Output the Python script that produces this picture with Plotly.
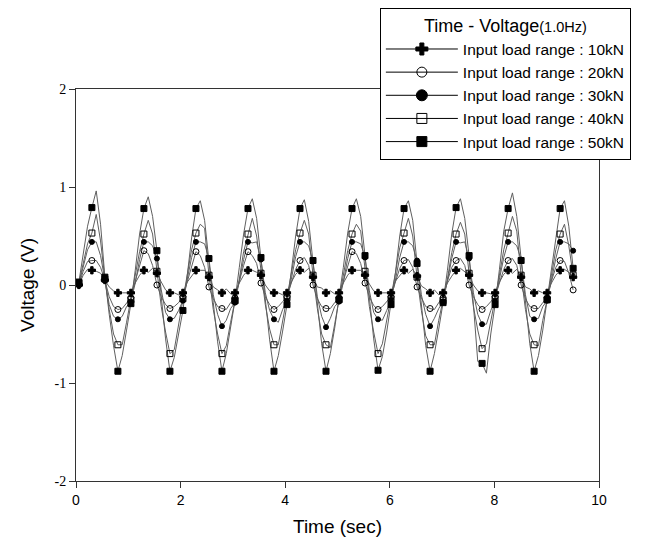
import numpy as np
import plotly.graph_objects as go

# ---- data ----
sample_start = 0.055   # s, first sample
sample_step = 0.0829   # s, line sampling interval (markers every 3rd sample)

v10 = [0.00, 0.10, 0.16, 0.15, 0.14, 0.12, 0.05, -0.02, -0.06, -0.08, -0.08, -0.08,
       -0.08, 0.02, 0.10, 0.15, 0.13, 0.17, 0.12, 0.03, -0.05, -0.08, -0.08, -0.10,
       -0.08, 0.03, 0.09, 0.15, 0.15, 0.15, 0.08, -0.02, -0.05, -0.08, -0.04, -0.09,
       -0.08, 0.02, 0.10, 0.15, 0.15, 0.13, 0.10, 0.00, -0.06, -0.08, -0.08, -0.10,
       -0.08, 0.03, 0.11, 0.15, 0.13, 0.17, 0.08, -0.02, -0.03, -0.08, -0.06, -0.09,
       -0.08, 0.02, 0.10, 0.15, 0.15, 0.15, 0.10, 0.01, -0.06, -0.08, -0.08, -0.08,
       -0.08, 0.04, 0.10, 0.15, 0.12, 0.16, 0.09, -0.01, -0.04, -0.08, -0.05, -0.10,
       -0.08, 0.02, 0.09, 0.15, 0.17, 0.13, 0.10, 0.00, -0.06, -0.08, -0.08, -0.09,
       -0.08, 0.03, 0.11, 0.15, 0.12, 0.16, 0.08, -0.02, -0.04, -0.08, -0.06, -0.08,
       -0.08, 0.02, 0.10, 0.15, 0.16, 0.13, 0.08]

v20 = [0.00, 0.14, 0.24, 0.25, 0.25, 0.18, 0.05, -0.12, -0.22, -0.25, -0.24, -0.18,
       -0.13, 0.04, 0.20, 0.35, 0.32, 0.20, 0.00, -0.12, -0.20, -0.24, -0.22, -0.18,
       -0.12, 0.04, 0.20, 0.34, 0.30, 0.18, -0.02, -0.14, -0.22, -0.24, -0.25, -0.18,
       -0.13, 0.04, 0.20, 0.34, 0.30, 0.22, 0.02, -0.12, -0.20, -0.25, -0.22, -0.17,
       -0.12, 0.02, 0.16, 0.25, 0.28, 0.20, 0.00, -0.14, -0.22, -0.24, -0.24, -0.18,
       -0.13, 0.04, 0.20, 0.34, 0.32, 0.22, 0.02, -0.12, -0.21, -0.25, -0.22, -0.17,
       -0.12, 0.03, 0.17, 0.25, 0.26, 0.18, -0.02, -0.13, -0.22, -0.24, -0.25, -0.18,
       -0.13, 0.04, 0.18, 0.25, 0.27, 0.20, 0.00, -0.12, -0.20, -0.25, -0.22, -0.17,
       -0.12, 0.02, 0.16, 0.25, 0.27, 0.20, 0.00, -0.14, -0.22, -0.24, -0.24, -0.18,
       -0.13, 0.04, 0.18, 0.25, 0.24, 0.12, -0.05]

v30 = [0.01, 0.20, 0.36, 0.44, 0.44, 0.30, 0.06, -0.20, -0.32, -0.35, -0.32, -0.22,
       -0.17, 0.02, 0.26, 0.44, 0.44, 0.40, 0.27, -0.05, -0.28, -0.35, -0.34, -0.26,
       -0.16, 0.05, 0.28, 0.44, 0.44, 0.42, 0.27, -0.10, -0.30, -0.42, -0.36, -0.24,
       -0.18, 0.04, 0.26, 0.44, 0.43, 0.44, 0.26, -0.08, -0.26, -0.35, -0.38, -0.25,
       -0.16, 0.06, 0.29, 0.44, 0.44, 0.40, 0.24, -0.12, -0.32, -0.43, -0.34, -0.22,
       -0.17, 0.03, 0.27, 0.44, 0.44, 0.42, 0.28, -0.06, -0.28, -0.35, -0.36, -0.26,
       -0.15, 0.05, 0.28, 0.44, 0.44, 0.40, 0.25, -0.10, -0.30, -0.42, -0.34, -0.24,
       -0.17, 0.04, 0.27, 0.44, 0.43, 0.44, 0.27, -0.08, -0.30, -0.40, -0.40, -0.26,
       -0.16, 0.06, 0.28, 0.44, 0.44, 0.40, 0.26, -0.10, -0.32, -0.35, -0.34, -0.22,
       -0.16, 0.05, 0.27, 0.44, 0.44, 0.42, 0.35]

v40 = [0.02, 0.22, 0.42, 0.53, 0.72, 0.45, 0.06, -0.25, -0.50, -0.61, -0.61, -0.38,
       -0.15, 0.08, 0.34, 0.52, 0.66, 0.52, 0.14, -0.22, -0.48, -0.70, -0.66, -0.40,
       -0.14, 0.10, 0.36, 0.53, 0.62, 0.58, 0.10, -0.25, -0.50, -0.70, -0.62, -0.38,
       -0.16, 0.06, 0.34, 0.52, 0.68, 0.50, 0.12, -0.20, -0.45, -0.61, -0.61, -0.36,
       -0.13, 0.10, 0.36, 0.53, 0.66, 0.52, 0.10, -0.24, -0.50, -0.61, -0.64, -0.40,
       -0.15, 0.08, 0.35, 0.52, 0.62, 0.55, 0.14, -0.22, -0.48, -0.70, -0.60, -0.37,
       -0.14, 0.12, 0.38, 0.53, 0.68, 0.50, 0.08, -0.26, -0.52, -0.61, -0.61, -0.36,
       -0.16, 0.06, 0.33, 0.52, 0.64, 0.52, 0.12, -0.22, -0.46, -0.65, -0.60, -0.38,
       -0.14, 0.10, 0.36, 0.53, 0.70, 0.55, 0.10, -0.25, -0.50, -0.61, -0.62, -0.36,
       -0.15, 0.10, 0.36, 0.52, 0.62, 0.40, 0.10]

v50 = [0.03, 0.32, 0.60, 0.79, 0.96, 0.62, 0.08, -0.30, -0.62, -0.88, -0.72, -0.46,
       -0.19, 0.15, 0.52, 0.78, 0.90, 0.70, 0.35, -0.12, -0.55, -0.88, -0.74, -0.50,
       -0.26, 0.10, 0.48, 0.78, 0.86, 0.66, 0.27, -0.18, -0.58, -0.88, -0.70, -0.45,
       -0.16, 0.18, 0.52, 0.78, 0.88, 0.68, 0.28, -0.15, -0.56, -0.88, -0.72, -0.47,
       -0.20, 0.14, 0.50, 0.78, 0.87, 0.65, 0.25, -0.20, -0.60, -0.88, -0.70, -0.44,
       -0.15, 0.18, 0.53, 0.78, 0.88, 0.70, 0.30, -0.14, -0.55, -0.87, -0.73, -0.48,
       -0.20, 0.12, 0.50, 0.78, 0.86, 0.66, 0.22, -0.22, -0.62, -0.88, -0.70, -0.45,
       -0.18, 0.15, 0.52, 0.79, 0.88, 0.68, 0.30, -0.20, -0.78, -0.80, -0.90, -0.50,
       -0.20, 0.16, 0.55, 0.78, 0.94, 0.70, 0.25, -0.18, -0.60, -0.88, -0.72, -0.46,
       -0.15, 0.18, 0.50, 0.78, 0.86, 0.60, 0.17]

series_names = ["Input load range : 10kN", "Input load range : 20kN",
                "Input load range : 30kN", "Input load range : 40kN",
                "Input load range : 50kN"]
series_values = [v10, v20, v30, v40, v50]

x_ticks = [0, 2, 4, 6, 8, 10]
y_ticks = [-2, -1, 0, 1, 2]
y_tick_labels = ["-2", "-1", "0", "1", "2"]

# ---- styles ----
symbols = ["cross", "circle-open", "circle", "square-open", "square"]
plot_sizes = [6, 6, 5, 6, 6]
legend_sizes = [10, 10, 11, 10, 10]
line_color = "rgb(95,95,95)"

fig = go.Figure()
t = sample_start + sample_step * np.arange(len(v10))

for name, vals in zip(series_names, series_values):
    fig.add_trace(go.Scatter(x=t, y=vals, mode="lines",
                             line=dict(color=line_color, width=1),
                             showlegend=False, hoverinfo="skip"))
for name, vals, sym, ps in zip(series_names, series_values, symbols, plot_sizes):
    fig.add_trace(go.Scatter(x=t[::3], y=vals[::3], mode="markers",
                             marker=dict(symbol=sym, size=ps, color="black",
                                         line=dict(color="black", width=1)),
                             showlegend=False))
for name, sym, ls in zip(series_names, symbols, legend_sizes):
    fig.add_trace(go.Scatter(x=[None], y=[None], mode="lines+markers", name=name,
                             line=dict(color="black", width=1),
                             marker=dict(symbol=sym, size=ls, color="black",
                                         line=dict(color="black", width=1))))

axis_common = dict(showline=True, linecolor="#333", linewidth=1, mirror=True,
                   ticks="outside", ticklen=6, tickcolor="#333",
                   showgrid=False, zeroline=False, automargin=False)

fig.update_layout(
    width=650, height=540,
    margin=dict(l=68, r=59, t=81, b=67, autoexpand=False),
    paper_bgcolor="white", plot_bgcolor="white",
    font=dict(family="Arial, Liberation Sans", color="black"),
    xaxis=dict(range=[0, 10], tickvals=x_ticks,
               tickfont=dict(size=14, family="Arial, Liberation Sans"),
               title=dict(text="Time (sec)", font=dict(size=19), standoff=12),
               **axis_common),
    yaxis=dict(range=[-2, 2], tickvals=y_ticks, ticktext=y_tick_labels,
               tickfont=dict(size=14, family="Liberation Serif, Times New Roman"),
               title=dict(text="Voltage (V)", font=dict(size=19), standoff=14),
               **axis_common),
    legend=dict(x=0.581, y=1.2066, xanchor="left", yanchor="top",
                bgcolor="white", bordercolor="black", borderwidth=1,
                font=dict(size=15.5, family="Arial, Liberation Sans"),
                itemwidth=72, tracegroupgap=0,
                title=dict(text="Time - Voltage<span style='font-size:14.5px'>(1.0Hz)</span>",
                           side="top center", font=dict(size=18))),
)

fig.write_html("out.html")
